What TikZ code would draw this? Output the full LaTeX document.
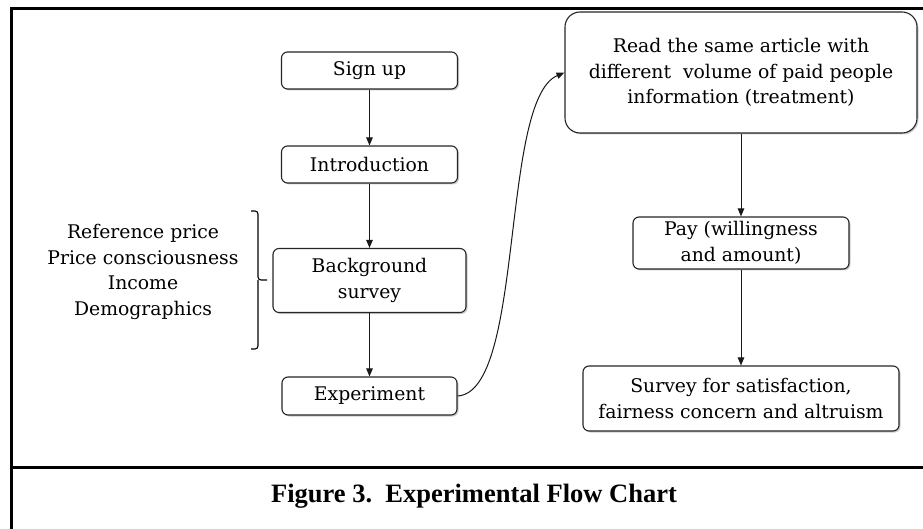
\documentclass[tikz,border=0pt]{standalone}
\usepackage{fontspec}
\setmainfont{DejaVu Serif}
\newfontfamily\capfont{Liberation Serif}
\usetikzlibrary{arrows.meta,shadows}
\begin{document}
\begin{tikzpicture}[x=1pt,y=-1pt,
  box/.style={draw=black!85, line width=1.1pt, rounded corners=6pt, fill=white, align=center, inner sep=0pt,
    font=\fontsize{18.8}{25.5}\selectfont,
    drop shadow={shadow xshift=1.5pt, shadow yshift=-1.5pt, opacity=0.2, fill=black}},
  arr/.style={-{Triangle[length=8pt,width=6.5pt]}, line width=1pt, black!90},
  frame/.style={line width=3pt, black},
  lbl/.style={align=center, font=\fontsize{18.8}{25.5}\selectfont},
  bracestyle/.style={line width=1.1pt, black, rounded corners=3pt}
]
\useasboundingbox (0,0) rectangle (923,529);
\fill[white] (0,0) rectangle (923,529);
% frame
\draw[frame] (11,8.5) -- (923,8.5);
\draw[frame] (11,7) -- (11,531);
\draw[frame] (11,467) -- (923,467);

% left column
\node[box, minimum width=176pt, minimum height=37pt] (signup) at (369.5,70.5) {Sign up};
\node[box, minimum width=176pt, minimum height=37pt] (intro) at (369.5,164.5) {Introduction};
\node[box, minimum width=193pt, minimum height=64pt] (bg) at (369.5,280.5) {Background\\survey};
\node[box, minimum width=175pt, minimum height=38pt] (exp) at (369.5,396) {Experiment};

% right column
\node[box, rounded corners=15pt, minimum width=352pt, minimum height=121pt] (read) at (741,72.5)
  {Read the same article with\\different\ \ volume of paid people\\information (treatment)};
\node[box, minimum width=216pt, minimum height=52pt] (pay) at (741,243) {Pay (willingness\\and amount)};
\node[box, minimum width=316pt, minimum height=65pt] (survey) at (741,398.5)
  {Survey for satisfaction,\\fairness concern and altruism};

% variables and brace
\node[lbl] (vars) at (143,272) {Reference price\\Price consciousness\\Income\\Demographics};
\draw[bracestyle] (251,211) -- (258,211) -- (258,280) -- (267,280);
\draw[bracestyle] (258,280) -- (258,349) -- (251,349);

% arrows
\draw[arr] (signup) -- (intro);
\draw[arr] (intro) -- (bg);
\draw[arr] (bg) -- (exp);
\draw[arr] (read) -- (pay);
\draw[arr] (pay) -- (survey);
\draw[arr] (exp.east) .. controls (525,392) and (500,100) .. (read.west);

% caption
\node[font=\capfont\bfseries\fontsize{26.5}{30}\selectfont, anchor=base] (cap) at (474,502)
  {Figure 3.\ \ Experimental Flow Chart};
\end{tikzpicture}
\end{document}
